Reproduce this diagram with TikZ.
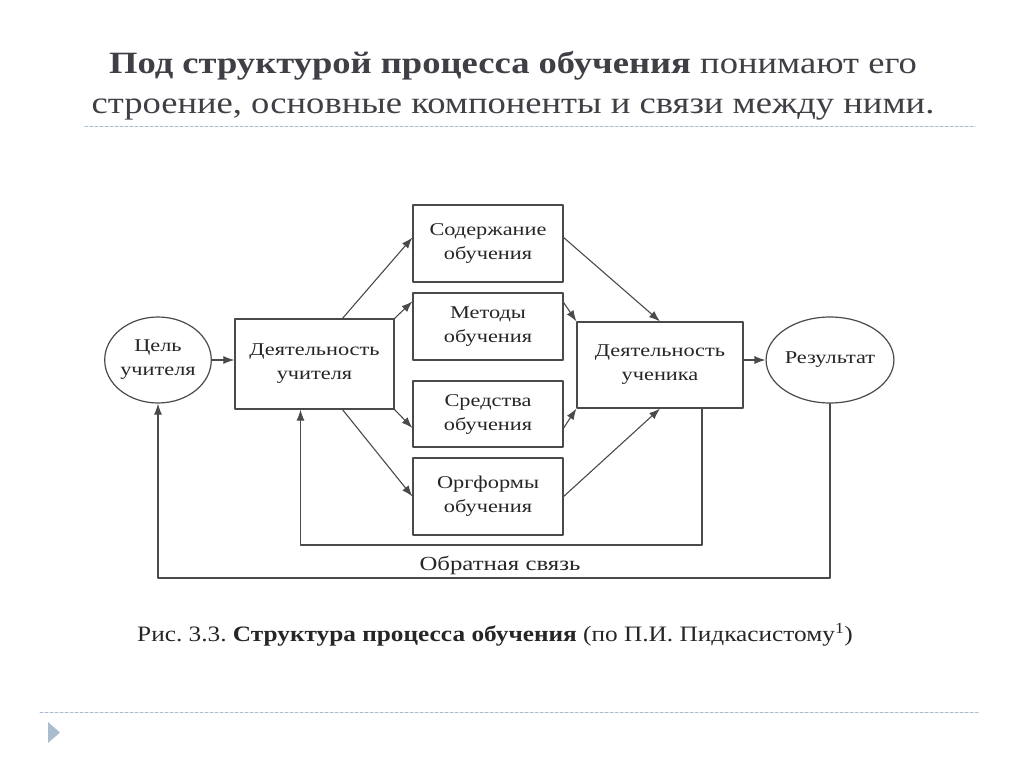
\documentclass[tikz,border=0pt]{standalone}
\usepackage{fontspec}
\setmainfont{Liberation Serif}
\newfontfamily\boxfont[FakeStretch=1.24]{Liberation Serif}
\newfontfamily\titlefont[FakeStretch=1.18]{Liberation Serif}
\newfontfamily\capfont[FakeStretch=1.15]{Liberation Serif}
\usetikzlibrary{shapes.geometric,arrows.meta,calc}
\definecolor{lncol}{HTML}{4A4A4A}
\definecolor{ttlcol}{HTML}{3F3F46}
\definecolor{dashcol}{HTML}{A9BDCF}
\frenchspacing
\begin{document}
\begin{tikzpicture}[x=1pt,y=-1pt,line join=round,line cap=round,>={Latex[length=11pt,width=8pt]},
		blk/.style={draw=lncol,line width=1.2pt,fill=white,font=\boxfont\fontsize{18}{24}\selectfont,align=center,inner sep=0pt,text=black!85},
		oval/.style={blk,ellipse},
		conn/.style={->,draw=lncol,line width=1.1pt}]
	\useasboundingbox (0,0) rectangle (1024,767);
	\tikzset{sep/.style={draw=dashcol,line width=1pt,dash pattern=on 3pt off 2pt}}
	% heading
	\node[font=\titlefont\fontsize{31}{40}\selectfont,text=ttlcol,align=center] (ttl) at (513,86)
		{\textbf{Под структурой процесса обучения} понимают его\\строение, основные компоненты и связи между ними.};
	\draw[sep] (85,127)--(975,127);
	\draw[sep] (40,712)--(978,712);
	\fill[dashcol] (48,722)--(60,732.5)--(48,743)--cycle;
	% blocks
	\node[oval,minimum width=102pt,minimum height=86pt] (goal) at (158,360) {Цель\\учителя};
	\node[blk,minimum width=159pt,minimum height=90pt] (teach) at (314.5,364) {Деятельность\\учителя};
	\node[blk,minimum width=150pt,minimum height=77pt] (cont) at (488,243.5) {Содержание\\обучения};
	\node[blk,minimum width=150pt,minimum height=67pt] (meth) at (488,326.5) {Методы\\обучения};
	\node[blk,minimum width=150pt,minimum height=66pt] (means) at (488,414) {Средства\\обучения};
	\node[blk,minimum width=150pt,minimum height=77pt] (form) at (488,496.5) {Оргформы\\обучения};
	\node[blk,minimum width=166pt,minimum height=86pt] (learn) at (660,365) {Деятельность\\ученика};
	\node[oval,minimum width=116pt,minimum height=86pt] (res) at (830,360) {Результат};
	% forward links
	\draw[conn] (goal.east)--(goal.east-|teach.west);
	\draw[conn] ($(teach.north)+(28,0)$)--($(cont.west)+(0,-6)$);
	\draw[conn] (teach.north east)--($(meth.north west)+(0,9)$);
	\draw[conn] (teach.south east)--($(means.west)+(0,14)$);
	\draw[conn] ($(teach.south)+(28,0)$)--(form.west);
	\draw[conn] ($(cont.east)+(0,-6)$)--(learn.north);
	\draw[conn] ($(meth.east)+(0,-24)$)--(learn.north west);
	\draw[conn] ($(means.east)+(0,14)$)--(learn.south west);
	\draw[conn] (form.east)--(learn.south);
	\draw[conn] (learn.east|-res.west)--(res.west);
	% feedback
	\coordinate (fbin) at (500,545);
	\coordinate (fbout) at (500,578);
	\draw[conn] ($(learn.south)+(42,0)$) |- (fbin) -| ($(teach.south)+(-14,0)$);
	\draw[conn] (res.south) |- (fbout) -| (goal.south);
	\node[font=\boxfont\fontsize{20}{22}\selectfont,text=black!85,above=0pt] (fbl) at (fbout) {Обратная связь};
	% caption
	\node[font=\capfont\fontsize{22}{24}\selectfont,text=black!85] (cap) at (495,635)
		{Рис. 3.3. \textbf{Структура процесса обучения} (по П.И. Пидкасистому\textsuperscript{1})};
\end{tikzpicture}
\end{document}
